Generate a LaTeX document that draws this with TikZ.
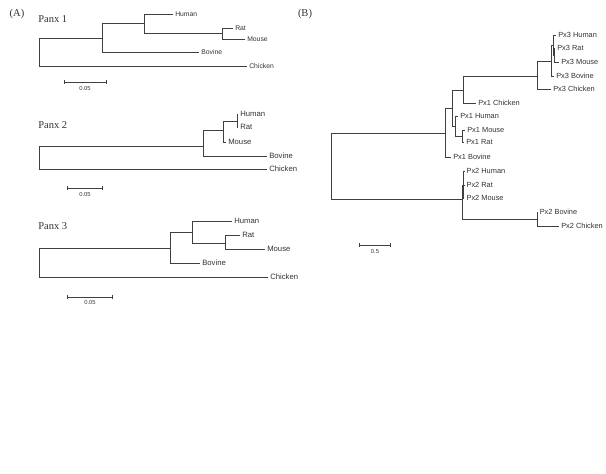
\documentclass[tikz,border=0pt]{standalone}
\usepackage{fontspec}
\setmainfont{Liberation Serif}
\setsansfont{Liberation Sans}
\usetikzlibrary{arrows.meta}
\tikzset{
leaf/.style={anchor=west, inner xsep=2pt, inner ysep=0pt, text=black!80, font=\sffamily\fontsize{#1}{#1}\selectfont}, % taxon names
leaf/.default=7.4,
panel/.style={inner sep=0pt, text=black!80, font=\fontsize{10.5}{11}\selectfont}, % (A), (B), Panx titles
scalebar/.style={{Bar[width=3.5pt]}-{Bar[width=3.5pt]}},
scalelbl/.style={inner sep=0pt, text=black!80, font=\sffamily\fontsize{5.8}{6}\selectfont},
}

\begin{document}
\begin{tikzpicture}[x=1pt, y=-1pt, line width=0.6pt, draw=black!75]
        \useasboundingbox (0,0) rectangle (606,474);
        \node[panel] at (17,14) (labA) {(A)};
        \node[panel] at (305,14) (labB) {(B)};
        % Panx 1
        \node[panel, anchor=west] at (38,19) (t1) {Panx 1};
        \coordinate (a1r) at (39,52);
        \coordinate (a1n1) at (102,38);
        \coordinate (a1n2) at (144,23);
        \coordinate (a1n3) at (222,33);
        \node[leaf=6.8] at (173,14) (a1hu) {Human};
        \node[leaf=6.8] at (233,28) (a1ra) {Rat};
        \node[leaf=6.8] at (245,39) (a1mo) {Mouse};
        \node[leaf=6.8] at (199,52) (a1bo) {Bovine};
        \node[leaf=6.8] at (247,66) (a1ch) {Chicken};
        \coordinate (s1a) at (64,82);
        \coordinate (s1b) at (107,82);
        \node[scalelbl] at (85,89) (s1l) {0.05};
        % Panx 2
        \node[panel, anchor=west] at (38,125) (t2) {Panx 2};
        \coordinate (a2r) at (39,157);
        \coordinate (a2n1) at (203,146);
        \coordinate (a2n2) at (223,130);
        \coordinate (a2n3) at (237,121);
        \node[leaf=7.7] at (238,114) (a2hu) {Human};
        \node[leaf=7.7] at (238,127) (a2ra) {Rat};
        \node[leaf=7.7] at (226,142) (a2mo) {Mouse};
        \node[leaf=7.7] at (267,156) (a2bo) {Bovine};
        \node[leaf=7.7] at (267,169) (a2ch) {Chicken};
        \coordinate (s2a) at (67,188);
        \coordinate (s2b) at (103,188);
        \node[scalelbl] at (85,195) (s2l) {0.05};
        % Panx 3
        \node[panel, anchor=west] at (38,226) (t3) {Panx 3};
        \coordinate (a3r) at (39,262);
        \coordinate (a3n1) at (170,248);
        \coordinate (a3n2) at (192,232);
        \coordinate (a3n3) at (225,243);
        \node[leaf=7.7] at (232,221) (a3hu) {Human};
        \node[leaf=7.7] at (240,235) (a3ra) {Rat};
        \node[leaf=7.7] at (265,249) (a3mo) {Mouse};
        \node[leaf=7.7] at (200,263) (a3bo) {Bovine};
        \node[leaf=7.7] at (268,277) (a3ch) {Chicken};
        \coordinate (s3a) at (67,297);
        \coordinate (s3b) at (113,297);
        \node[scalelbl] at (90,303) (s3l) {0.05};
        % (B) all three paralogues
        \coordinate (br) at (331,166);
        \coordinate (bn1) at (445,133);
        \coordinate (bn2) at (452,108);
        \coordinate (bn3) at (463,90);
        \coordinate (bn4) at (455,126);
        \coordinate (bn5) at (537,76);
        \coordinate (bn6) at (551,61);
        \coordinate (bn7) at (553,45);
        \coordinate (bn8) at (554,55);
        \coordinate (bn9) at (462,136);
        \coordinate (bm1) at (462,199);
        \coordinate (bm2) at (463,185);
        \coordinate (bm4) at (463.6,178);
        \coordinate (bm3) at (537,219);
        \node[leaf] at (556,35) (p3hu) {Px3 Human};
        \node[leaf] at (555,48) (p3ra) {Px3 Rat};
        \node[leaf] at (559,62) (p3mo) {Px3 Mouse};
        \node[leaf] at (554,76) (p3bo) {Px3 Bovine};
        \node[leaf] at (551,89) (p3ch) {Px3 Chicken};
        \node[leaf] at (476,103) (p1ch) {Px1 Chicken};
        \node[leaf] at (458,116) (p1hu) {Px1 Human};
        \node[leaf] at (465,130) (p1mo) {Px1 Mouse};
        \node[leaf] at (464,142) (p1ra) {Px1 Rat};
        \node[leaf] at (451,157) (p1bo) {Px1 Bovine};
        \node[leaf] at (464.3,171) (p2hu) {Px2 Human};
        \node[leaf] at (464.3,185) (p2ra) {Px2 Rat};
        \node[leaf] at (464.3,198) (p2mo) {Px2 Mouse};
        \node[leaf] at (537.5,212) (p2bo) {Px2 Bovine};
        \node[leaf] at (559,226) (p2ch) {Px2 Chicken};
        \coordinate (s4a) at (359,245);
        \coordinate (s4b) at (391,245);
        \node[scalelbl] at (375,252) (s4l) {0.5};
        \draw
        (a1r) |- (a1n1) (a1r) |- (a1ch.west)
        (a1n1) |- (a1n2) (a1n1) |- (a1bo.west)
        (a1n2) |- (a1hu.west) (a1n2) |- (a1n3)
        (a1n3) |- (a1ra.west) (a1n3) |- (a1mo.west)
        (a2r) |- (a2n1) (a2r) |- (a2ch.west)
        (a2n1) |- (a2n2) (a2n1) |- (a2bo.west)
        (a2n2) |- (a2n3) (a2n2) |- (a2mo.west)
        (a2n3) |- (a2hu.west) (a2n3) |- (a2ra.west)
        (a3r) |- (a3n1) (a3r) |- (a3ch.west)
        (a3n1) |- (a3n2) (a3n1) |- (a3bo.west)
        (a3n2) |- (a3hu.west) (a3n2) |- (a3n3)
        (a3n3) |- (a3ra.west) (a3n3) |- (a3mo.west)
        (br) |- (bn1) (br) |- (bm1)
        (bn1) |- (bn2) (bn1) |- (p1bo.west)
        (bn2) |- (bn3) (bn2) |- (bn4)
        (bn3) |- (bn5) (bn3) |- (p1ch.west)
        (bn5) |- (bn6) (bn5) |- (p3ch.west)
        (bn6) |- (bn7) (bn6) |- (p3bo.west)
        (bn7) |- (p3hu.west) (bn7) |- (bn8)
        (bn8) |- (p3ra.west) (bn8) |- (p3mo.west)
        (bn4) |- (p1hu.west) (bn4) |- (bn9)
        (bn9) |- (p1mo.west) (bn9) |- (p1ra.west)
        (bm1) |- (bm2) (bm1) |- (bm3)
        (bm2) |- (bm4) (bm2) |- (p2mo.west)
        (bm4) |- (p2hu.west) (bm4) |- (p2ra.west)
        (bm3) |- (p2bo.west) (bm3) |- (p2ch.west)
        ;
        \draw[scalebar] (s1a) -- (s1b);
        \draw[scalebar] (s2a) -- (s2b);
        \draw[scalebar] (s3a) -- (s3b);
        \draw[scalebar] (s4a) -- (s4b);
    \end{tikzpicture}
\end{document}
